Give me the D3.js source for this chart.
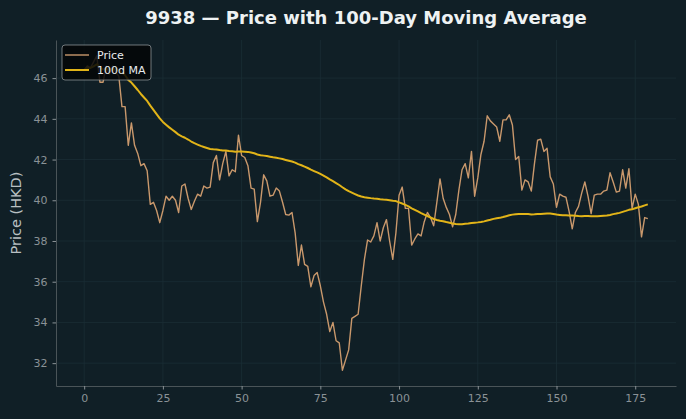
<!DOCTYPE html>
<html>
<head>
<meta charset="utf-8">
<script src="https://cdn.jsdelivr.net/npm/d3@7"></script>
<style>
  html, body { margin: 0; padding: 0; background: #101f26; }
  svg { display: block; font-family: "DejaVu Sans", sans-serif; }
</style>
</head>
<body>
<div id="chart"></div>
<script>
// price, one value per trading day (index 0..179)
const price = [
  46.4, 46.6, 46.5, 46.8, 47.1, 45.8, 45.8, 46.6, 46.2, 46.6,
  46.3, 46.1, 44.6, 44.6, 42.7, 43.8, 42.7, 42.3, 41.7, 41.8,
  41.45, 39.8, 39.9, 39.5, 38.9, 39.5, 40.2, 40.0, 40.2, 40.0,
  39.4, 40.7, 40.8, 40.1, 39.55, 39.95, 40.3, 40.2, 40.7, 40.6,
  40.65, 41.85, 42.2, 41.0, 41.8, 42.4, 41.2, 41.5, 41.4, 43.2,
  42.2, 42.1, 41.7, 40.6, 40.55, 38.95, 39.9, 41.25, 40.95, 40.2,
  40.25, 40.6, 40.45, 39.9, 39.3, 39.27, 39.4, 38.4, 36.8, 37.8,
  36.85, 36.75, 35.75, 36.3, 36.45, 35.8, 35.0, 34.4, 33.55, 34.0,
  33.1, 33.0, 31.65, 32.15, 32.65, 34.2, 34.3, 34.4, 35.8, 37.1,
  38.05, 37.95, 38.25, 38.9, 38.0, 38.65, 39.05, 38.0, 37.1, 38.4,
  40.25, 40.65, 39.6, 39.6, 37.8, 38.1, 38.35, 38.25, 38.95, 39.4,
  39.15, 38.75, 39.9, 41.05, 40.1, 39.65, 39.3, 38.7, 39.3, 40.5,
  41.5, 41.8, 41.1, 42.4, 40.2, 41.1, 42.25, 42.9, 44.15, 43.9,
  43.75, 43.6, 42.9, 43.95, 43.95, 44.2, 43.7, 42.0, 42.15, 40.5,
  41.0, 40.9, 40.45, 41.8, 42.95, 43.0, 42.4, 42.55, 41.15, 40.8,
  39.65, 40.3, 40.2, 40.15, 39.45, 38.6, 39.4, 39.7, 40.35, 40.9,
  40.2, 39.35, 40.25, 40.3, 40.3, 40.45, 40.5, 41.35, 40.9, 40.4,
  40.45, 41.5, 40.6, 41.55, 39.6, 40.3, 39.8, 38.2, 39.15, 39.1
];
const maWindow = 100;
const xTicks = [0, 25, 50, 75, 100, 125, 150, 175];
const yTicks = [32, 34, 36, 38, 40, 42, 44, 46];
const seriesNames = ["Price", "100d MA"];
const titleText = "9938 \u2014 Price with 100-Day Moving Average";
const yLabel = "Price (HKD)";

// moving average over up to the last 100 days
const days = price.map((d, i) => i);
const ma = price.map((d, i) => d3.mean(price.slice(Math.max(0, i - maWindow + 1), i + 1)));

const width = 686, height = 419;
const margin = {top: 40, right: 10, bottom: 33, left: 56};

const svg = d3.select("#chart").append("svg")
    .attr("width", width)
    .attr("height", height);

svg.append("rect")
    .attr("width", width).attr("height", height)
    .attr("fill", "#101f26");

const xPad = (d3.max(days) - d3.min(days)) * 0.05;
const x = d3.scaleLinear()
    .domain([d3.min(days) - xPad, d3.max(days) + xPad])
    .range([margin.left, width - margin.right]);

const yMin = d3.min(price.concat(ma)), yMax = d3.max(price.concat(ma));
const yPad = (yMax - yMin) * 0.05;
const y = d3.scaleLinear()
    .domain([yMin - yPad, yMax + yPad])
    .range([height - margin.bottom, margin.top]);

// grid
const grid = svg.append("g").attr("class", "grid");
grid.selectAll("line.gx").data(xTicks).enter().append("line")
    .attr("x1", d => x(d)).attr("x2", d => x(d))
    .attr("y1", margin.top).attr("y2", height - margin.bottom)
    .style("stroke", "#1b2d35").style("stroke-width", 0.8);
grid.selectAll("line.gy").data(yTicks).enter().append("line")
    .attr("y1", d => y(d)).attr("y2", d => y(d))
    .attr("x1", margin.left).attr("x2", width - margin.right)
    .style("stroke", "#1b2d35").style("stroke-width", 0.8);

// axes
const xAxis = svg.append("g")
    .attr("transform", `translate(0,${height - margin.bottom})`)
    .call(d3.axisBottom(x).tickValues(xTicks).tickSize(3.5).tickPadding(5).tickSizeOuter(0));
const yAxis = svg.append("g")
    .attr("transform", `translate(${margin.left},0)`)
    .call(d3.axisLeft(y).tickValues(yTicks).tickSize(3.5).tickPadding(5).tickSizeOuter(0));

[xAxis, yAxis].forEach(a => {
    a.select(".domain").style("stroke", "#4a5458").style("stroke-width", 1);
    a.selectAll(".tick line").style("stroke", "#8a9296");
    a.selectAll(".tick text")
        .style("fill", "#8a9296")
        .style("font-size", "11px")
        .style("font-family", "DejaVu Sans, sans-serif");
});

// lines
const line = d3.line().x((d, i) => x(i)).y(d => y(d));

svg.append("path")
    .datum(price)
    .attr("d", line)
    .style("fill", "none")
    .style("stroke", "#c9986c")
    .style("stroke-width", 1.4)
    .style("stroke-linejoin", "round");

svg.append("path")
    .datum(ma)
    .attr("d", line)
    .style("fill", "none")
    .style("stroke", "#e2b418")
    .style("stroke-width", 2)
    .style("stroke-linejoin", "round");

// title + y label
svg.append("text")
    .attr("x", (margin.left + width - margin.right) / 2)
    .attr("y", 24)
    .attr("text-anchor", "middle")
    .style("fill", "#eef2f3")
    .style("font-size", "18px")
    .style("font-weight", "bold")
    .text(titleText);

svg.append("text")
    .attr("transform", `translate(21,${(margin.top + height - margin.bottom) / 2}) rotate(-90)`)
    .attr("text-anchor", "middle")
    .style("fill", "#b9c0c3")
    .style("font-size", "14.5px")
    .text(yLabel);

// legend
const legend = svg.append("g").attr("transform", "translate(62,45)");
legend.append("rect")
    .attr("width", 89).attr("height", 35)
    .attr("rx", 3)
    .style("fill", "#030607")
    .style("fill-opacity", 0.85)
    .style("stroke", "#8c9295")
    .style("stroke-width", 0.8);
const legendColors = ["#c9986c", "#e2b418"];
const legendWidths = [1.4, 2];
seriesNames.forEach((name, i) => {
    const row = legend.append("g").attr("transform", `translate(0,${10 + i * 15})`);
    row.append("line")
        .attr("x1", 3).attr("x2", 27)
        .style("stroke", legendColors[i])
        .style("stroke-width", legendWidths[i]);
    row.append("text")
        .attr("x", 35).attr("dy", "0.35em")
        .style("fill", "#e8ecee")
        .style("font-size", "11px")
        .text(name);
});
</script>
</body>
</html>
